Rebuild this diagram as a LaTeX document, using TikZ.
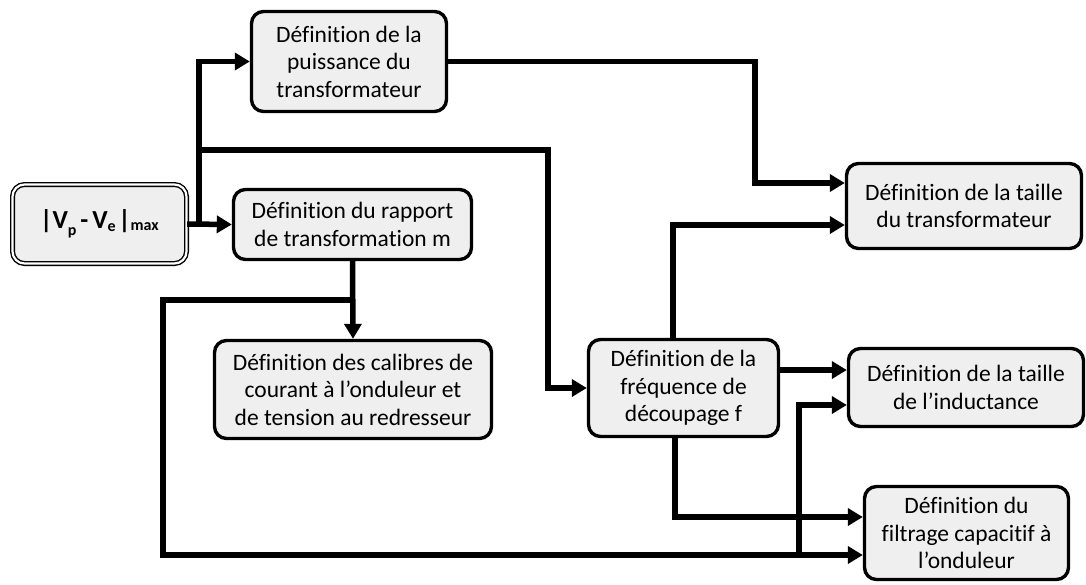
\documentclass[tikz,border=0pt]{standalone}
\usepackage{fontspec}
\setmainfont{Carlito}[Ligatures=NoCommon]
\usetikzlibrary{arrows.meta}
\definecolor{boxfill}{HTML}{EFEFEF}
\newcommand{\subtxt}[2]{\raisebox{#1}{\fontsize{16}{16}\selectfont #2}}
\tikzset{
  box/.style={draw=black, line width=3.4pt, rounded corners=12pt, fill=boxfill, align=center, inner sep=0pt, font=\fontsize{23.5}{27.5}\selectfont},
  dbox/.style={draw=black, double=white, double distance=2.2pt, line width=1.4pt, rounded corners=12pt, fill=boxfill, align=center, inner sep=0pt},
  conn/.style={line width=5.5pt, line join=miter, -{Triangle[length=15pt,width=17pt]}},
}
\begin{document}
\begin{tikzpicture}[x=1pt,y=-1pt]
\useasboundingbox (0,0) rectangle (1086,584);
% nodes
\node[dbox, minimum width=174pt, minimum height=79pt] (v) at (99.5,224)
  {\fontsize{26}{30}\selectfont\bfseries |V\subtxt{-0.28em}{p}\kern0.15em-\kern0.15em V\subtxt{-0.12em}{e}\kern0.1em|\subtxt{-0.08em}{max}};
\node[box, minimum width=195pt, minimum height=100pt] (puis) at (349,61.5)
  {Définition de la\\puissance du\\transformateur};
\node[box, minimum width=238pt, minimum height=70pt] (rap) at (352.5,224.5)
  {Définition du rapport\\de transformation m};
\node[box, minimum width=277pt, minimum height=98pt] (cal) at (353,389.5)
  {Définition des calibres de\\courant à l’onduleur et\\de tension au redresseur};
\node[box, minimum width=190pt, minimum height=97pt] (freq) at (683.5,388)
  {Définition de la\\fréquence de\\découpage f};
\node[box, minimum width=235pt, minimum height=85pt] (taille) at (964,206)
  {Définition de la taille\\du transformateur};
\node[box, minimum width=235pt, minimum height=78pt] (ind) at (966,387.5)
  {Définition de la taille\\de l’inductance};
\node[box, minimum width=204pt, minimum height=93pt] (filt) at (966.5,533)
  {Définition du\\filtrage capacitif à\\l’onduleur};
% helper coordinates
\coordinate (j1) at (199,224);
\coordinate (j2) at (199,150);
\coordinate (k1) at (548,388);
\coordinate (k2) at (755,183);
\coordinate (k3) at (673,225);
\coordinate (k4) at (0,370);
\coordinate (k5) at (675,517);
\coordinate (j3) at (353,300);
\coordinate (k6) at (163,555);
\coordinate (j4) at (799,555);
\coordinate (k7) at (0,405);
% connectors
\draw[conn] (v.east) -- (rap.west);
\draw[conn] (j1) |- (puis.west);
\draw[conn] (j2) -| (k1) -- (freq.west);
\draw[conn] (puis.east) -| (k2) -- (k2 -| taille.west);
\draw[conn] (freq.north -| k3) |- (k3 -| taille.west);
\draw[conn] (k4 -| freq.east) -- (k4 -| ind.west);
\draw[conn] (freq.south -| k5) |- (k5 -| filt.west);
\draw[conn] (rap.south) -- (cal.north);
\draw[conn] (j3) -| (k6) -- (k6 -| filt.west);
\draw[conn] (j4) |- (k7 -| ind.west);
\end{tikzpicture}
\end{document}
